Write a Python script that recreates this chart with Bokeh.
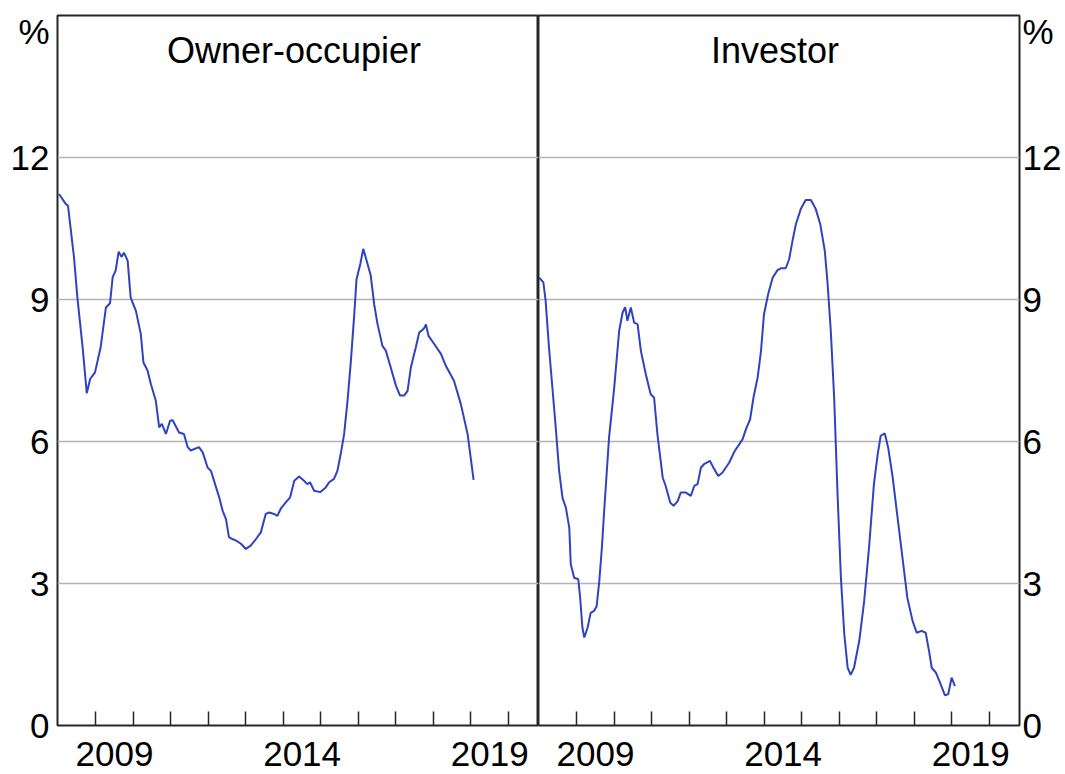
from bokeh.plotting import figure
from bokeh.layouts import row
from bokeh.models import FixedTicker, CustomJSTickFormatter, Label, Range1d
from bokeh.embed import file_html
from bokeh.resources import INLINE

# ---- data (decimal year, % growth) ----
owner_x = [2008.02, 2008.20, 2008.26, 2008.42, 2008.51, 2008.65, 2008.76, 2008.85, 2008.98, 2009.13,
           2009.27, 2009.38, 2009.45, 2009.53, 2009.61, 2009.69, 2009.75, 2009.85, 2009.93, 2010.07,
           2010.20, 2010.27, 2010.38, 2010.47, 2010.60, 2010.69, 2010.76, 2010.87, 2010.98, 2011.05,
           2011.22, 2011.35, 2011.45, 2011.53, 2011.75, 2011.85, 2011.98, 2012.07, 2012.29, 2012.38,
           2012.47, 2012.55, 2012.64, 2012.73, 2012.87, 2013.00, 2013.13, 2013.27, 2013.40, 2013.53,
           2013.62, 2013.75, 2013.84, 2013.93, 2014.07, 2014.18, 2014.29, 2014.42, 2014.55, 2014.64,
           2014.71, 2014.82, 2014.98, 2015.13, 2015.22, 2015.35, 2015.44, 2015.53, 2015.62, 2015.71,
           2015.80, 2015.89, 2015.95, 2016.05, 2016.13, 2016.22, 2016.33, 2016.42, 2016.51, 2016.64,
           2016.73, 2016.86, 2017.00, 2017.11, 2017.22, 2017.31, 2017.40, 2017.53, 2017.62, 2017.74,
           2017.80, 2017.87, 2018.02, 2018.20, 2018.33, 2018.55, 2018.73, 2018.91, 2019.07]
owner_y = [11.23, 11.02, 10.98, 9.89, 9.04, 7.99, 7.02, 7.32, 7.46, 7.99,
           8.83, 8.92, 9.47, 9.61, 10.01, 9.90, 9.99, 9.82, 9.04, 8.76,
           8.27, 7.67, 7.50, 7.21, 6.86, 6.30, 6.37, 6.16, 6.44, 6.45,
           6.19, 6.16, 5.88, 5.81, 5.88, 5.77, 5.45, 5.38, 4.82, 4.54,
           4.36, 3.98, 3.94, 3.91, 3.84, 3.73, 3.80, 3.94, 4.08, 4.47,
           4.50, 4.47, 4.43, 4.58, 4.72, 4.82, 5.17, 5.26, 5.17, 5.10,
           5.14, 4.96, 4.93, 5.03, 5.14, 5.21, 5.38, 5.74, 6.16, 6.86,
           7.71, 8.69, 9.43, 9.75, 10.07, 9.82, 9.50, 8.90, 8.48, 8.02,
           7.92, 7.57, 7.18, 6.97, 6.97, 7.07, 7.57, 7.99, 8.30, 8.38,
           8.47, 8.23, 8.06, 7.85, 7.60, 7.28, 6.79, 6.16, 5.19]

investor_x = [2008.00, 2008.11, 2008.17, 2008.26, 2008.35, 2008.44, 2008.53, 2008.62, 2008.71, 2008.80,
              2008.84, 2008.93, 2009.04, 2009.09, 2009.15, 2009.20, 2009.29, 2009.37, 2009.46, 2009.53,
              2009.60, 2009.67, 2009.73, 2009.86, 2009.99, 2010.13, 2010.22, 2010.29, 2010.35, 2010.44,
              2010.53, 2010.62, 2010.71, 2010.84, 2010.97, 2011.06, 2011.15, 2011.29, 2011.37, 2011.49,
              2011.58, 2011.69, 2011.77, 2011.91, 2012.04, 2012.13, 2012.22, 2012.31, 2012.39, 2012.55,
              2012.64, 2012.77, 2012.88, 2013.06, 2013.21, 2013.33, 2013.42, 2013.51, 2013.62, 2013.71,
              2013.82, 2013.91, 2013.99, 2014.10, 2014.22, 2014.35, 2014.44, 2014.57, 2014.66, 2014.75,
              2014.84, 2014.97, 2015.10, 2015.24, 2015.37, 2015.49, 2015.61, 2015.68, 2015.77, 2015.86,
              2015.95, 2016.04, 2016.13, 2016.22, 2016.30, 2016.39, 2016.53, 2016.66, 2016.79, 2016.92,
              2017.02, 2017.10, 2017.21, 2017.30, 2017.42, 2017.55, 2017.68, 2017.81, 2017.95, 2018.06,
              2018.19, 2018.30, 2018.39, 2018.46, 2018.57, 2018.70, 2018.81, 2018.90, 2018.99, 2019.08]
investor_y = [9.46, 9.36, 8.97, 7.98, 7.14, 6.29, 5.38, 4.81, 4.60, 4.18,
              3.41, 3.12, 3.09, 2.70, 2.07, 1.86, 2.07, 2.38, 2.42, 2.52,
              3.05, 3.76, 4.53, 6.08, 7.07, 8.34, 8.72, 8.84, 8.55, 8.83,
              8.51, 8.48, 7.91, 7.42, 7.00, 6.93, 6.15, 5.24, 5.06, 4.71,
              4.64, 4.74, 4.92, 4.92, 4.85, 5.06, 5.10, 5.45, 5.52, 5.59,
              5.45, 5.27, 5.34, 5.55, 5.80, 5.94, 6.05, 6.26, 6.47, 6.93,
              7.35, 7.91, 8.69, 9.11, 9.46, 9.62, 9.66, 9.66, 9.85, 10.24,
              10.59, 10.91, 11.10, 11.10, 10.91, 10.59, 10.03, 9.39, 8.34, 6.93,
              4.90, 3.12, 1.93, 1.22, 1.07, 1.22, 1.79, 2.63, 3.76, 5.10,
              5.73, 6.12, 6.17, 5.87, 5.24, 4.39, 3.55, 2.70, 2.21, 1.96,
              2.00, 1.96, 1.57, 1.22, 1.12, 0.87, 0.64, 0.66, 1.01, 0.83]

panel_titles = ["Owner-occupier", "Investor"]
y_ticks = [0, 3, 6, 9, 12]
year_ticks = list(range(2009, 2021))      # tick marks at year starts
year_labels = [2009, 2014, 2019]          # labels centred on the year
unit_label = "%"

# ---- styling ----
X_START, X_END = 2007.98, 2020.80
Y_START, Y_END = 0, 15
UNIT_POS = 14.66
TITLE_Y = 14.27
FONT = "Liberation Sans"
TICK_FS = "35px"
TITLE_FS = "36px"
LINE_COLOR = "#2f43c0"
FRAME_COLOR = "#262626"
GRID_COLOR = "#b3b3b3"
H = 774


def make_panel(title, xs, ys, side):
    kw = dict(width=538, min_border_left=57, min_border_right=0) if side == "left" else \
        dict(width=527, min_border_left=0, min_border_right=46)
    p = figure(height=H, x_range=Range1d(X_START, X_END), y_range=Range1d(Y_START, Y_END),
               output_backend="svg", toolbar_location=None, y_axis_location=side,
               min_border_top=15, min_border_bottom=49, **kw)
    p.background_fill_color = "white"
    p.border_fill_color = "white"
    p.outline_line_color = FRAME_COLOR
    p.outline_line_width = 2

    # x axis: tick marks at year starts (minor), labels at mid-year (major)
    xa = p.xaxis[0]
    xa.ticker = FixedTicker(ticks=[y + 0.5 for y in year_labels], minor_ticks=year_ticks)
    xa.formatter = CustomJSTickFormatter(code="return Math.floor(tick).toString();")
    xa.major_tick_line_color = None
    xa.major_tick_in = 0
    xa.major_tick_out = 0
    xa.minor_tick_line_color = FRAME_COLOR
    xa.minor_tick_line_width = 1.5
    xa.minor_tick_in = 14
    xa.minor_tick_out = 0
    xa.axis_line_color = None
    xa.major_label_standoff = 16
    xa.major_label_text_font = FONT
    xa.major_label_text_font_size = TICK_FS
    xa.major_label_text_color = "black"

    ya = p.yaxis[0]
    ya.ticker = FixedTicker(ticks=y_ticks + [UNIT_POS])
    ya.formatter = CustomJSTickFormatter(
        code="return tick > 13 ? '%s' : Math.round(tick).toString();" % unit_label)
    ya.major_tick_line_color = None
    ya.major_tick_in = 0
    ya.major_tick_out = 0
    ya.minor_tick_line_color = None
    ya.axis_line_color = None
    ya.major_label_standoff = 3 if side == "right" else 8
    ya.major_label_text_font = FONT
    ya.major_label_text_font_size = TICK_FS
    ya.major_label_text_color = "black"

    p.xgrid.visible = False
    p.ygrid.ticker = FixedTicker(ticks=[t for t in y_ticks if t > 0])
    p.ygrid.grid_line_color = GRID_COLOR
    p.ygrid.grid_line_width = 1.5

    p.line(xs, ys, line_color=LINE_COLOR, line_width=2)

    p.add_layout(Label(x=(X_START + X_END) / 2, y=TITLE_Y, text=title, x_offset=-4,
                       text_align="center", text_baseline="middle",
                       text_font=FONT, text_font_size=TITLE_FS, text_color="black"))
    return p


p1 = make_panel(panel_titles[0], owner_x, owner_y, "left")
p2 = make_panel(panel_titles[1], investor_x, investor_y, "right")
layout = row(p1, p2, spacing=0)

open("out.html", "w").write(file_html(layout, INLINE))
